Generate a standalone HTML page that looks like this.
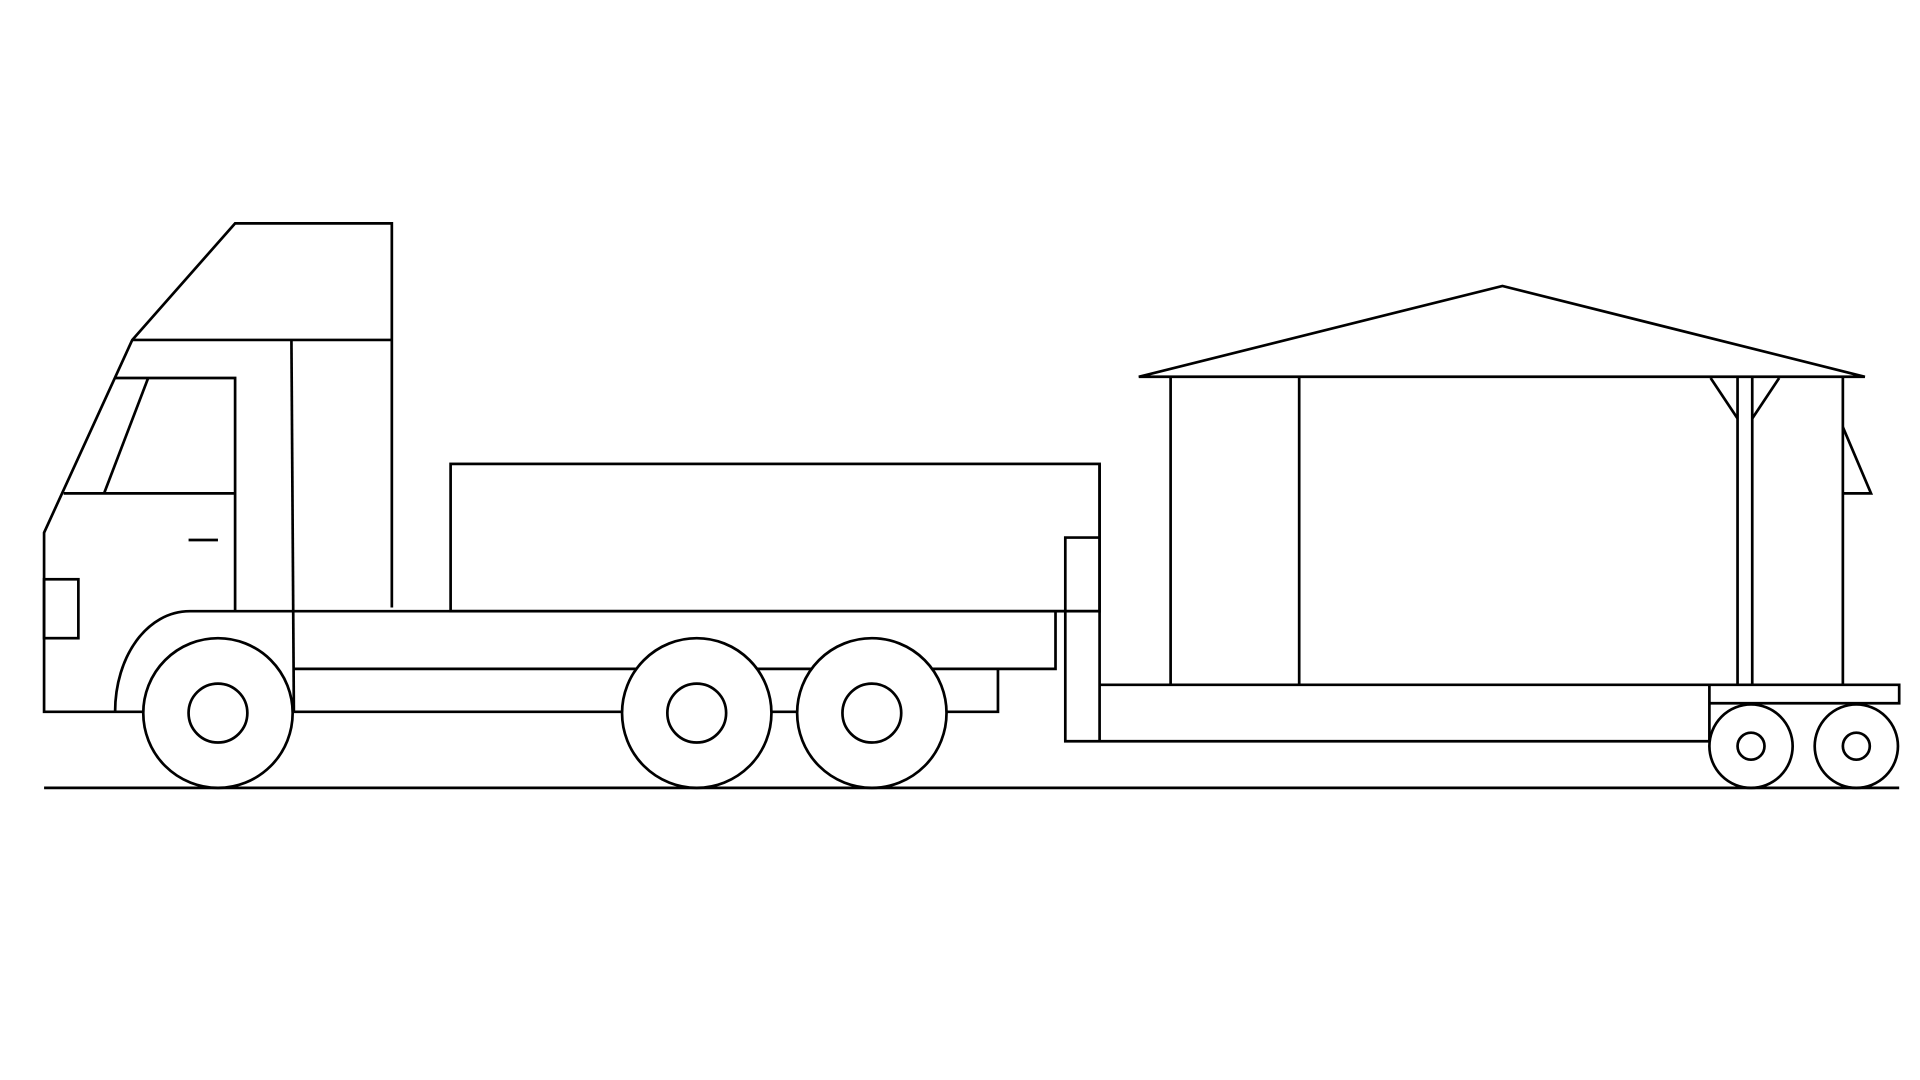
<!DOCTYPE html>
<html><head><style>html,body{margin:0;padding:0;background:#fff;}svg{display:block}</style></head>
<body>
<svg width="1920" height="1080" viewBox="0 0 1568 880" preserveAspectRatio="none" xmlns="http://www.w3.org/2000/svg">
<g fill="none" stroke="#000" stroke-width="2.2">
<line x1="36" y1="642" x2="1551" y2="642"/>
<!-- cab -->
<polyline points="320,495 320,182 192,182 108,277 36,434 36,580 118,580"/>
<line x1="108" y1="277" x2="320" y2="277"/>
<polyline points="94,308 192,308 192,498"/>
<line x1="52" y1="402" x2="192" y2="402"/>
<line x1="121" y1="308" x2="85" y2="402"/>
<line x1="154" y1="440" x2="178" y2="440"/>
<rect x="36" y="472" width="28" height="48"/>
<line x1="238" y1="277" x2="240" y2="580"/>
<path d="M94,580 C94,535 120,498 155,498 L898,498"/>
<!-- chassis -->
<polyline points="240,545 862,545 862,498"/>
<polyline points="240,580 815,580 815,545"/>
<rect x="368" y="378" width="530" height="120"/>
<!-- trailer -->
<polyline points="898,378 898,604"/>
<polyline points="898,438 870,438 870,604 1396,604 1396,558"/>
<polyline points="898,558 1551,558 1551,573 1396,573"/>
<!-- house -->
<polygon points="930,307 1227,233 1523,307"/>
<line x1="956" y1="307" x2="956" y2="558"/>
<line x1="1061" y1="307" x2="1061" y2="558"/>
<line x1="1419" y1="307" x2="1419" y2="558"/>
<line x1="1431" y1="307" x2="1431" y2="558"/>
<line x1="1505" y1="307" x2="1505" y2="558"/>
<line x1="1397" y1="308" x2="1419" y2="341"/>
<line x1="1453" y1="308" x2="1431" y2="341"/>
<polyline points="1505,348 1528,402 1505,402"/>
</g>
<g fill="#fff" stroke="#000" stroke-width="2.2">
<circle cx="178" cy="581" r="61"/><circle cx="178" cy="581" r="24"/>
<circle cx="569" cy="581" r="61"/><circle cx="569" cy="581" r="24"/>
<circle cx="712" cy="581" r="61"/><circle cx="712" cy="581" r="24"/>
<circle cx="1430" cy="608" r="34"/><circle cx="1430" cy="608" r="11"/>
<circle cx="1516" cy="608" r="34"/><circle cx="1516" cy="608" r="11"/>
</g>
</svg>
</body></html>
